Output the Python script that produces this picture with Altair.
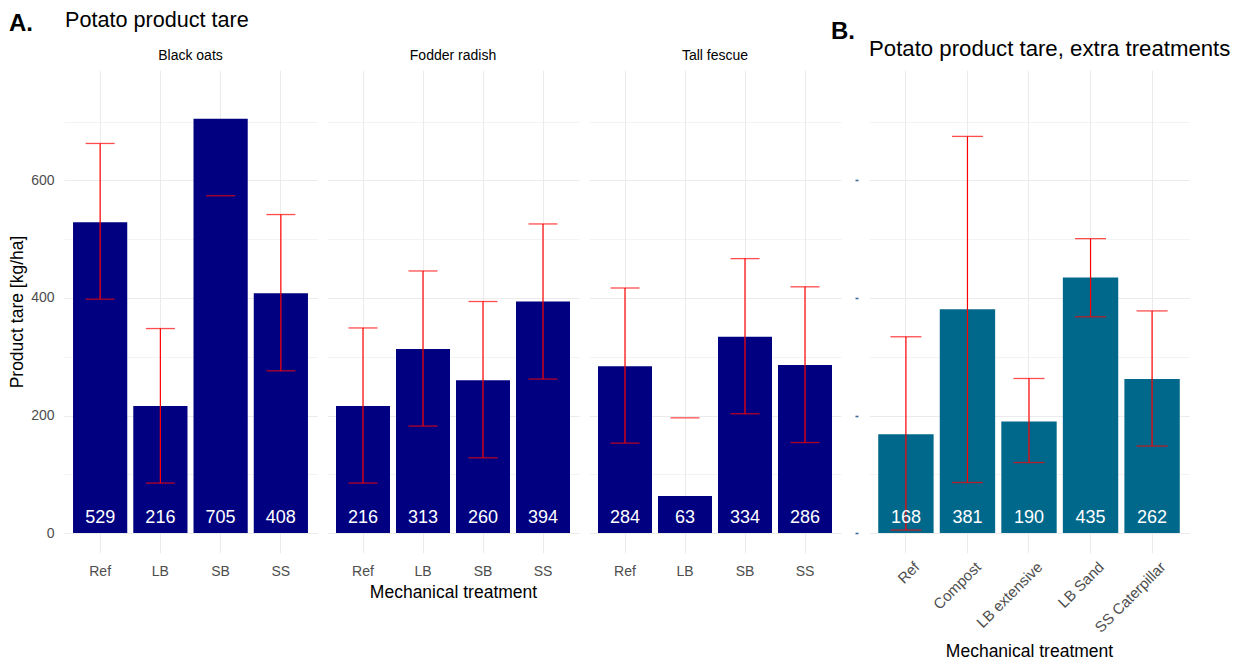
import altair as alt
import pandas as pd

# ---- data ----
treatments_a = ["Ref", "LB", "SB", "SS"]
cover_crops = ["Black oats", "Fodder radish", "Tall fescue"]

black_oats = [529, 216, 705, 408]
black_oats_lo = [398, 85, 574, 276]
black_oats_hi = [663, 348, None, 542]

fodder_radish = [216, 313, 260, 394]
fodder_radish_lo = [85, 182, 128, 262]
fodder_radish_hi = [349, 446, 394, 526]

tall_fescue = [284, 63, 334, 286]
tall_fescue_lo = [153, None, 203, 154]
tall_fescue_hi = [417, 196, 467, 419]

treatments_b = ["Ref", "Compost", "LB extensive", "LB Sand", "SS Caterpillar"]
extra = [168, 381, 190, 435, 262]
extra_lo = [5, 86, 120, 368, 148]
extra_hi = [334, 675, 263, 501, 378]

y_ticks = [0, 100, 200, 300, 400, 500, 600, 700]

# ---- styling ----
FONT = "Liberation Sans"
NAVY = "#000080"
TEAL = "#00688B"
GRID = "#EBEBEB"
H = 483
Y_DOMAIN = [-34, 788]
MAJOR = "datum.value % 200 === 0"
GRID_W = {"condition": {"test": MAJOR, "value": 1.1}, "value": 0.6}


def y_axis(kind):
    common = dict(values=y_ticks, grid=True, gridColor=GRID, gridWidth=GRID_W,
                  domain=False)
    if kind == "main":
        return alt.Axis(labelExpr="datum.value % 200 === 0 ? datum.label : ''",
                        ticks=False, tickSize=0, labelFontSize=14, labelColor="#4D4D4D",
                        labelPadding=10, title="Product tare [kg/ha]", titleFontSize=17.5,
                        titleFontWeight="normal", titleColor="black", titlePadding=4,
                        **common)
    if kind == "b":
        return alt.Axis(labels=False, ticks=True, tickSize=3, tickColor="#3B6A9A",
                        tickWidth=1.6, offset=11, title=None,
                        tickOpacity={"condition": {"test": MAJOR, "value": 1}, "value": 0},
                        **common)
    return alt.Axis(labels=False, ticks=False, tickSize=0, title=None, **common)


def x_axis(title, b=False):
    kw = dict(title=title, labelColor="#4D4D4D", ticks=False,
              domain=False, grid=True, gridColor=GRID, bandPosition=0.5,
              titleFontSize=17.5, titleFontWeight="normal", titleColor="black")
    if b:
        kw.update(labelAngle=-45, labelAlign="right", labelBaseline="top",
                  labelFontSize=15, labelPadding=6, labelOffset=6, titlePadding=7)
    else:
        kw.update(labelAngle=0, labelFontSize=14, labelPadding=11, titlePadding=5)
    return alt.Axis(**kw)


def panel(cats, vals, lo, hi, color, width, ykind, xaxis, cap, texts):
    df = pd.DataFrame({"cat": cats, "val": vals, "lo": lo, "hi": hi})
    x = alt.X("cat:N", sort=cats, axis=xaxis,
              scale=alt.Scale(paddingInner=0.1, paddingOuter=0.15))
    ysc = alt.Scale(domain=Y_DOMAIN, nice=False, zero=False)
    yax = y_axis(ykind)
    base = alt.Chart(df)
    bars = base.mark_bar(color=color).encode(
        x=x, y=alt.Y("val:Q", scale=ysc, axis=yax), y2=alt.datum(0))
    rules = base.transform_filter("isValid(datum.lo) && isValid(datum.hi)").mark_rule(
        color="red", strokeWidth=1.2).encode(
        x=x, y=alt.Y("lo:Q", scale=ysc, axis=yax), y2="hi:Q")
    caps = base.transform_fold(["lo", "hi"], as_=["k", "v"]).transform_filter(
        "isValid(datum.v)").mark_tick(color="red", thickness=1.3, size=cap).encode(
        x=x, y=alt.Y("v:Q", scale=ysc, axis=yax))
    labels = base.mark_text(color="white", fontSize=18, baseline="alphabetic",
                            dy=-10, font=FONT).encode(
        x=x, y=alt.datum(0), text="val:Q")
    layers = [bars, rules, caps, labels]
    for (t, px, py, size, weight, align) in texts:
        layers.append(
            alt.Chart(pd.DataFrame({"t": [t]})).mark_text(
                fontSize=size, fontWeight=weight, align=align, baseline="alphabetic",
                color="black", font=FONT).encode(
                text="t:N", x=alt.value(px), y=alt.value(py)))
    return alt.layer(*layers).properties(width=width, height=H)


W_A = [253, 252, 252]
f1 = panel(treatments_a, black_oats, black_oats_lo, black_oats_hi, NAVY, W_A[0], "main",
           x_axis(None), 29,
           [("A.", -55, -39, 24, "bold", "left"),
            ("Potato product tare", 1, -43, 21.6, "normal", "left"),
            (cover_crops[0], W_A[0] / 2, -10, 14, "normal", "center")])
f2 = panel(treatments_a, fodder_radish, fodder_radish_lo, fodder_radish_hi, NAVY, W_A[1],
           "none", x_axis("Mechanical treatment"), 29,
           [(cover_crops[1], W_A[1] / 2, -10, 14, "normal", "center")])
f3 = panel(treatments_a, tall_fescue, tall_fescue_lo, tall_fescue_hi, NAVY, W_A[2],
           "none", x_axis(None), 29,
           [(cover_crops[2], W_A[2] / 2, -10, 14, "normal", "center")])

spacer = alt.Chart(pd.DataFrame({"s": [0]})).mark_point(opacity=0).encode(
    x=alt.value(0), y=alt.value(0)).properties(width=8, height=H)

fb = panel(treatments_b, extra, extra_lo, extra_hi, TEAL, 320, "b",
           x_axis("Mechanical treatment", b=True), 31,
           [("B.", -38, -31, 24, "bold", "left"),
            ("Potato product tare, extra treatments", 0, -14, 22.2, "normal", "left")])

chart = alt.hconcat(f1, f2, f3, spacer, fb, spacing=10, bounds="flush").properties(
    padding={"left": 0, "top": 2, "right": 0, "bottom": 0}
).configure(font=FONT).configure_view(stroke="transparent", strokeWidth=0)

chart.save("out.html", embed_options={"renderer": "svg", "actions": False})
